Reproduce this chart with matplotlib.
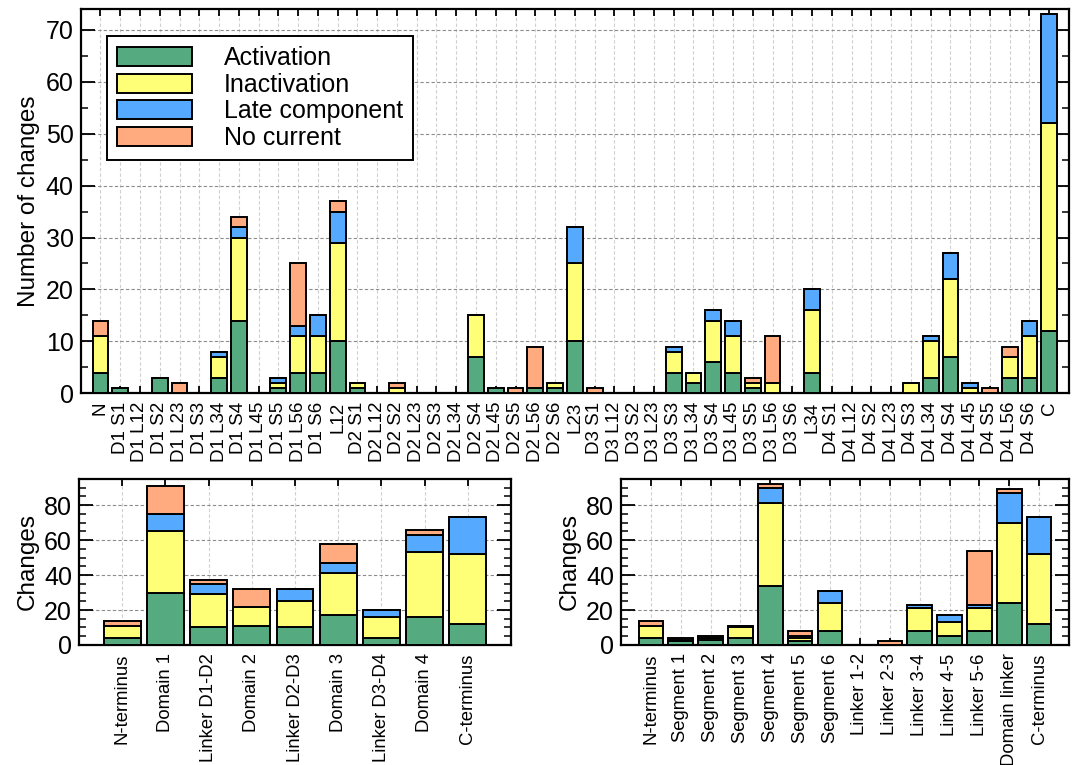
import numpy as np
import matplotlib
matplotlib.use('Agg')
import matplotlib.pyplot as plt
from matplotlib.ticker import MultipleLocator

plt.rcParams['font.family'] = ['Liberation Sans', 'DejaVu Sans']

series_names = ['Activation', 'Inactivation', 'Late component', 'No current']
colors = ['#55aa7f', '#ffff77', '#55aaff', '#ffaa7f']

# per-segment counts (top panel)
seg_labels = ['N', 'D1 S1', 'D1 L12', 'D1 S2', 'D1 L23', 'D1 S3', 'D1 L34', 'D1 S4',
              'D1 L45', 'D1 S5', 'D1 L56', 'D1 S6', 'L12',
              'D2 S1', 'D2 L12', 'D2 S2', 'D2 L23', 'D2 S3', 'D2 L34', 'D2 S4',
              'D2 L45', 'D2 S5', 'D2 L56', 'D2 S6', 'L23',
              'D3 S1', 'D3 L12', 'D3 S2', 'D3 L23', 'D3 S3', 'D3 L34', 'D3 S4',
              'D3 L45', 'D3 S5', 'D3 L56', 'D3 S6', 'L34',
              'D4 S1', 'D4 L12', 'D4 S2', 'D4 L23', 'D4 S3', 'D4 L34', 'D4 S4',
              'D4 L45', 'D4 S5', 'D4 L56', 'D4 S6', 'C']
seg_act = [4, 1, 0, 3, 0, 0, 3, 14, 0, 1, 4, 4, 10,
           1, 0, 0, 0, 0, 0, 7, 1, 0, 1, 1, 10,
           0, 0, 0, 0, 4, 2, 6, 4, 1, 0, 0, 4,
           0, 0, 0, 0, 0, 3, 7, 0, 0, 3, 3, 12]
seg_inact = [7, 0, 0, 0, 0, 0, 4, 16, 0, 1, 7, 7, 19,
             1, 0, 1, 0, 0, 0, 8, 0, 0, 0, 1, 15,
             0, 0, 0, 0, 4, 2, 8, 7, 1, 2, 0, 12,
             0, 0, 0, 0, 2, 7, 15, 1, 0, 4, 8, 40]
seg_late = [0, 0, 0, 0, 0, 0, 1, 2, 0, 1, 2, 4, 6,
            0, 0, 0, 0, 0, 0, 0, 0, 0, 0, 0, 7,
            0, 0, 0, 0, 1, 0, 2, 3, 0, 0, 0, 4,
            0, 0, 0, 0, 0, 1, 5, 1, 0, 0, 3, 21]
seg_none = [3, 0, 0, 0, 2, 0, 0, 2, 0, 0, 12, 0, 2,
            0, 0, 1, 0, 0, 0, 0, 0, 1, 8, 0, 0,
            1, 0, 0, 0, 0, 0, 0, 0, 1, 9, 0, 0,
            0, 0, 0, 0, 0, 0, 0, 0, 1, 2, 0, 0]

# grouped by domain (bottom left)
dom_labels = ['N-terminus', 'Domain 1', 'Linker D1-D2', 'Domain 2', 'Linker D2-D3',
              'Domain 3', 'Linker D3-D4', 'Domain 4', 'C-terminus']
dom_act = [4, 30, 10, 11, 10, 17, 4, 16, 12]
dom_inact = [7, 35, 19, 11, 15, 24, 12, 37, 40]
dom_late = [0, 10, 6, 0, 7, 6, 4, 10, 21]
dom_none = [3, 16, 2, 10, 0, 11, 0, 3, 0]

# grouped by segment type (bottom right)
type_labels = ['N-terminus', 'Segment 1', 'Segment 2', 'Segment 3', 'Segment 4',
               'Segment 5', 'Segment 6', 'Linker 1-2', 'Linker 2-3', 'Linker 3-4',
               'Linker 4-5', 'Linker 5-6', 'Domain linker', 'C-terminus']
type_act = [4, 2, 3, 4, 34, 2, 8, 0, 0, 8, 5, 8, 24, 12]
type_inact = [7, 1, 1, 6, 47, 2, 16, 0, 0, 13, 8, 13, 46, 40]
type_late = [0, 0, 0, 1, 9, 1, 7, 0, 0, 2, 4, 2, 17, 21]
type_none = [3, 1, 1, 0, 2, 3, 0, 0, 2, 0, 0, 31, 2, 0]


def stacked(ax, labels, series, width, ymax, major, xfont):
    x = np.arange(len(labels))
    bottom = np.zeros(len(labels))
    for vals, col, name in zip(series, colors, series_names):
        vals = np.array(vals, dtype=float)
        ax.bar(x, vals, width, bottom=bottom, color=col, edgecolor='black',
               linewidth=1.4, label=name, zorder=3)
        bottom += vals
    ax.set_xlim(-1, len(labels))
    ax.set_ylim(0, ymax)
    ax.set_xticks(x)
    ax.set_xticklabels(labels, rotation=90, fontsize=xfont)
    ax.yaxis.set_major_locator(MultipleLocator(major))
    ax.yaxis.set_minor_locator(MultipleLocator(5))
    ax.tick_params(axis='y', which='major', direction='in', right=True, length=10,
                   width=1.3, labelsize=18, pad=5)
    ax.tick_params(axis='y', which='minor', direction='in', right=True, length=5, width=1.1)
    ax.tick_params(axis='x', which='both', direction='in', top=True, length=5,
                   width=1.3, pad=6)
    ax.yaxis.grid(True, linestyle=(0, (3, 2)), color='#8c8c8c', linewidth=0.8)
    ax.xaxis.grid(True, linestyle=(0, (3, 2)), color='#cfcfcf', linewidth=0.8)
    ax.set_axisbelow(True)
    for sp in ax.spines.values():
        sp.set_linewidth(1.6)


fig = plt.figure(figsize=(10.77, 7.65), dpi=100)

ax1 = fig.add_axes([0.0749, 0.4859, 0.9177, 0.5023])
stacked(ax1, seg_labels, [seg_act, seg_inact, seg_late, seg_none], 0.8, 74, 10, 13.5)
ax1.set_ylabel('Number of changes', fontsize=17.5, labelpad=4)
leg = ax1.legend(loc='upper left', bbox_to_anchor=(0.0265, 0.93), borderaxespad=0,
                 fontsize=18, handlelength=3.0, handleheight=0.8, handletextpad=1.25,
                 labelspacing=0.1, borderpad=0.42, fancybox=False, framealpha=1)
leg.get_frame().set_edgecolor('black')
leg.get_frame().set_linewidth(1.4)

ax2 = fig.add_axes([0.0734, 0.1569, 0.4011, 0.2170])
stacked(ax2, dom_labels, [dom_act, dom_inact, dom_late, dom_none], 0.85, 95, 20, 13.3)
ax2.set_ylabel('Changes', fontsize=17.5, labelpad=4)

ax3 = fig.add_axes([0.5766, 0.1569, 0.4160, 0.2170])
stacked(ax3, type_labels, [type_act, type_inact, type_late, type_none], 0.82, 95, 20, 13.3)
ax3.set_ylabel('Changes', fontsize=17.5, labelpad=4)

fig.savefig('out.png', dpi=100)
